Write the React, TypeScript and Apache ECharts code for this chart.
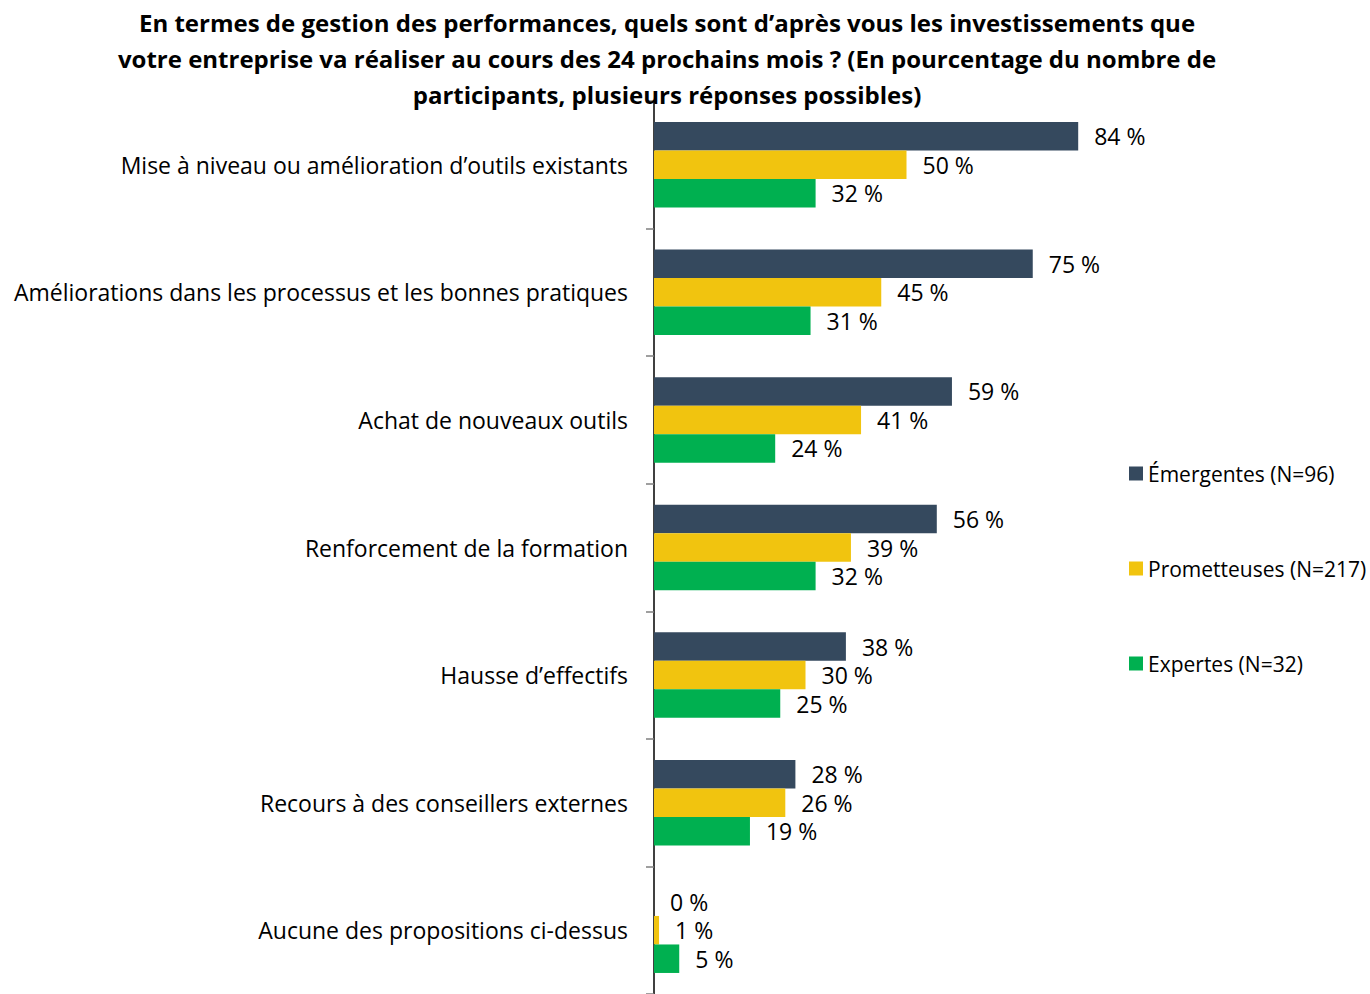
import React, { useEffect, useRef } from "react";
import * as echarts from "echarts";

const categories = [
  "Mise à niveau ou amélioration d’outils existants",
  "Améliorations dans les processus et les bonnes pratiques",
  "Achat de nouveaux outils",
  "Renforcement de la formation",
  "Hausse d’effectifs",
  "Recours à des conseillers externes",
  "Aucune des propositions ci-dessus",
];
const emergentes = [84, 75, 59, 56, 38, 28, 0];
const prometteuses = [50, 45, 41, 39, 30, 26, 1];
const expertes = [32, 31, 24, 32, 25, 19, 5];
const seriesNames = ["Émergentes (N=96)", "Prometteuses (N=217)", "Expertes (N=32)"];
const colors = ["#35495e", "#f1c40f", "#00b050"];

const FONT = "'Open Sans', sans-serif";

export default function App() {
  const ref = useRef<HTMLDivElement>(null);
  useEffect(() => {
    if (!ref.current) return;
    const chart = echarts.init(ref.current, null, { renderer: "svg" });
    const data = [emergentes, prometteuses, expertes];
    chart.setOption({
      animation: false,
      textStyle: { fontFamily: FONT },
      title: {
        text:
          "En termes de gestion des performances, quels sont d’après vous les investissements que\nvotre entreprise va réaliser au cours des 24 prochains mois ? (En pourcentage du nombre de\nparticipants, plusieurs réponses possibles)",
        left: 662,
        top: -1,
        textAlign: "center",
        textStyle: {
          fontFamily: FONT,
          fontWeight: "bold",
          fontSize: 24,
          lineHeight: 36,
          color: "#000",
        },
      },
      legend: {
        orient: "vertical",
        left: 1124,
        top: 458,
        itemWidth: 14,
        itemHeight: 14,
        itemGap: 74,
        icon: "rect",
        textStyle: { fontFamily: FONT, fontSize: 21, color: "#000", padding: [0, 0, 0, 0] },
        data: seriesNames,
      },
      grid: { left: 654, right: 211, top: 101, bottom: -4, containLabel: false },
      xAxis: {
        type: "value",
        min: 0,
        max: 100,
        show: false,
      },
      yAxis: {
        type: "category",
        data: categories,
        inverse: true,
        axisLine: { show: true, lineStyle: { color: "#000", width: 1.5 } },
        axisTick: { show: true, length: 8, lineStyle: { color: "#7f7f7f", width: 1.5 } },
        axisLabel: { margin: 26, fontFamily: FONT, fontSize: 23, color: "#000" },
      },
      series: data.map((d, i) => ({
        name: seriesNames[i],
        type: "bar",
        data: d,
        barWidth: 28.5,
        barGap: "0%",
        itemStyle: { color: colors[i] },
        label: {
          show: true,
          position: "right",
          distance: 16,
          formatter: "{c} %",
          fontFamily: FONT,
          fontSize: 23,
          color: "#000",
        },
      })),
    });
    return () => chart.dispose();
  }, []);
  return (
    <div
      ref={ref}
      style={{ position: "fixed", left: 0, top: 0, width: 1370, height: 994, background: "#fff" }}
    />
  );
}
